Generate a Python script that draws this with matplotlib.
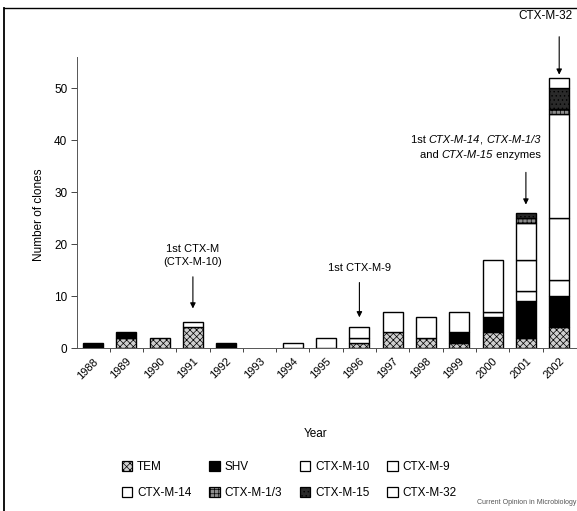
import numpy as np
import matplotlib.pyplot as plt
from matplotlib.patches import Patch
from matplotlib.lines import Line2D
from matplotlib.offsetbox import TextArea, HPacker, VPacker, AnnotationBbox

plt.rcParams.update({
    "font.family": ["Liberation Sans", "DejaVu Sans"],
    "font.size": 8.5,
    "hatch.linewidth": 0.5,
})

# clones per year, one list per enzyme
years = np.arange(1988, 2003)
tem = [0, 2, 2, 4, 0, 0, 0, 0, 1, 3, 2, 1, 3, 2, 4]
shv = [1, 1, 0, 0, 1, 0, 0, 0, 0, 0, 0, 2, 3, 7, 6]
ctx_m10 = [0, 0, 0, 1, 0, 0, 1, 2, 1, 0, 0, 0, 1, 2, 3]
ctx_m9 = [0, 0, 0, 0, 0, 0, 0, 0, 2, 4, 4, 4, 10, 6, 12]
ctx_m14 = [0, 0, 0, 0, 0, 0, 0, 0, 0, 0, 0, 0, 0, 7, 20]
ctx_m13 = [0, 0, 0, 0, 0, 0, 0, 0, 0, 0, 0, 0, 0, 1, 1]
ctx_m15 = [0, 0, 0, 0, 0, 0, 0, 0, 0, 0, 0, 0, 0, 1, 4]
ctx_m32 = [0, 0, 0, 0, 0, 0, 0, 0, 0, 0, 0, 0, 0, 0, 2]

series = [
    ("TEM", tem, "#cfcfcf", "xxxxx"),
    ("SHV", shv, "black", None),
    ("CTX-M-10", ctx_m10, "white", None),
    ("CTX-M-9", ctx_m9, "white", None),
    ("CTX-M-14", ctx_m14, "white", None),
    ("CTX-M-1/3", ctx_m13, "#8c8c8c", "++++"),
    ("CTX-M-15", ctx_m15, "#2a2a2a", "...."),
    ("CTX-M-32", ctx_m32, "white", None),
]

W, H = 577, 511
fig = plt.figure(figsize=(W / 100, H / 100), dpi=100)

# axes placed in pixels: y axis at x=77, baseline at y=348
x0, x1, yb, yt = 77, 577, 348, 57
ax = fig.add_axes([x0 / W, (H - yb) / H, (x1 - x0) / W, (yb - yt) / H])
px_per_year = 33.3
left = 1988 - (93 - x0) / px_per_year
ax.set_xlim(left, left + (x1 - x0) / px_per_year)
ax.set_ylim(0, 56)

bottom = np.zeros(len(years))
handles = {}
for name, vals, fc, hatch in series:
    vals = np.array(vals, dtype=float)
    m = vals > 0
    ax.bar(years[m], vals[m], bottom=bottom[m], width=0.6, color=fc,
           edgecolor="black", linewidth=1.0, hatch=hatch)
    bottom += vals
    handles[name] = Patch(facecolor=fc, edgecolor="black", linewidth=0.9, hatch=hatch)

for s in ["top", "right"]:
    ax.spines[s].set_visible(False)
ax.spines["left"].set_color("#555555")
ax.spines["left"].set_linewidth(0.7)
ax.spines["bottom"].set_color("#555555")
ax.spines["bottom"].set_linewidth(0.7)
ax.spines["bottom"].set_linestyle((0, (2, 1)))

ax.set_yticks([0, 10, 20, 30, 40, 50])
ax.tick_params(axis="y", length=4, width=0.7, color="#444444", labelsize=8.5, pad=3)
ax.set_xticks(years)
ax.set_xticklabels([str(y) for y in years], rotation=45, ha="right",
                   rotation_mode="anchor", fontsize=8)
ax.tick_params(axis="x", length=0, pad=6)
ax.set_xticks(years[:-1] + 0.5, minor=True)
ax.tick_params(axis="x", which="minor", length=3, width=0.7, color="#444444")

fig.text(39 / W, (H - 215) / H, "Number of clones", rotation=90,
         ha="center", va="center", fontsize=8.5)
fig.text(316 / W, (H - 434) / H, "Year", ha="center", va="center", fontsize=8.5)

arrow = dict(arrowstyle="-|>", color="black", lw=0.8, mutation_scale=8,
             shrinkA=0, shrinkB=0)

# 1991
ax.text(1991, 17.8, "1st CTX-M\n(CTX-M-10)", ha="center", va="center",
        fontsize=8, linespacing=1.35)
ax.annotate("", xy=(1991, 7.6), xytext=(1991, 13.7), arrowprops=arrow)
# 1996
ax.text(1996, 15.4, "1st CTX-M-9", ha="center", va="center", fontsize=8)
ax.annotate("", xy=(1996, 5.9), xytext=(1996, 12.6), arrowprops=arrow)
# 2001
it = dict(fontsize=8, fontstyle="italic")
rm = dict(fontsize=8)
line1 = HPacker(children=[TextArea("1st ", textprops=rm), TextArea("CTX-M-14", textprops=it),
                          TextArea(", ", textprops=rm), TextArea("CTX-M-1/3", textprops=it)],
                sep=0, pad=0, align="baseline")
line2 = HPacker(children=[TextArea("and ", textprops=rm), TextArea("CTX-M-15", textprops=it),
                          TextArea(" enzymes", textprops=rm)],
                sep=0, pad=0, align="baseline")
box = VPacker(children=[line1, line2], sep=3, pad=0, align="right")
ax.add_artist(AnnotationBbox(box, (2001.45, 38.6), box_alignment=(1, 0.5),
                             frameon=False, pad=0, annotation_clip=False))
ax.annotate("", xy=(2001, 27.6), xytext=(2001, 33.8), arrowprops=arrow)
# 2002
ax.text(2001.6, 63.8, "CTX-M-32", ha="center", va="center", fontsize=8.5, clip_on=False)
ax.annotate("", xy=(2002, 52.6), xytext=(2002, 59.9), arrowprops=arrow,
            annotation_clip=False)

order = ["TEM", "CTX-M-14", "SHV", "CTX-M-1/3", "CTX-M-10", "CTX-M-15", "CTX-M-9", "CTX-M-32"]
fig.legend([handles[k] for k in order], order, ncol=4, frameon=False,
           loc="center", bbox_to_anchor=(289 / W, (H - 480) / H),
           handlelength=0.9, handleheight=0.9, handletextpad=0.4,
           columnspacing=1.5, labelspacing=1.2, fontsize=8.5)

fig.text(576 / W, (H - 502) / H, "Current Opinion in Microbiology", ha="right",
         va="center", fontsize=5, color="#555555")

# scanned frame lines on the left and top
fig.add_artist(Line2D([4 / W, 4 / W], [0, (H - 8) / H], color="black", lw=1.3))
fig.add_artist(Line2D([4 / W, 1], [(H - 8) / H, (H - 8) / H], color="black", lw=1.0))

fig.savefig("out.png", dpi=100)
